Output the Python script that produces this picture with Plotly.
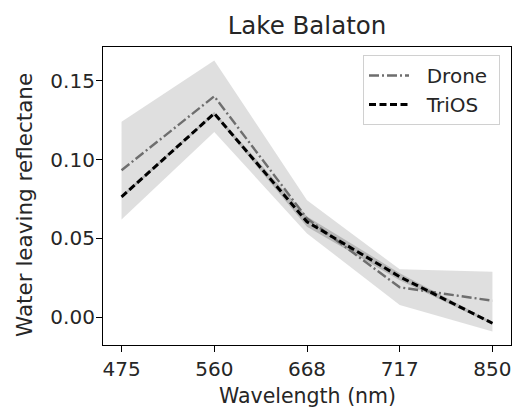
import plotly.graph_objects as go

wavelengths = ["475", "560", "668", "717", "850"]
drone = [0.0933, 0.1402, 0.0627, 0.0190, 0.0105]
drone_upper = [0.124, 0.163, 0.0743, 0.0304, 0.0289]
drone_lower = [0.062, 0.1176, 0.0532, 0.0078, -0.0091]
trios = [0.0764, 0.1293, 0.0606, 0.0257, -0.0038]
trios_upper = [0.0774, 0.1303, 0.0640, 0.0280, -0.0030]
trios_lower = [0.0754, 0.1283, 0.0575, 0.0235, -0.0046]

FONT = "DejaVu Sans"
TXT = "#262626"
FS = 20
W, H = 516, 411
L, R, T, B = 103, 5, 47, 66
NB = "\u00a0"

fig = go.Figure()

# Shaded bands
fig.add_trace(go.Scatter(x=wavelengths, y=drone_upper, mode="lines",
                         line=dict(width=0), showlegend=False, hoverinfo="skip"))
fig.add_trace(go.Scatter(x=wavelengths, y=drone_lower, mode="lines",
                         line=dict(width=0), fill="tonexty",
                         fillcolor="rgba(150,150,150,0.3)",
                         showlegend=False, hoverinfo="skip"))
fig.add_trace(go.Scatter(x=wavelengths, y=trios_upper, mode="lines",
                         line=dict(width=0), showlegend=False, hoverinfo="skip"))
fig.add_trace(go.Scatter(x=wavelengths, y=trios_lower, mode="lines",
                         line=dict(width=0), fill="tonexty",
                         fillcolor="rgba(110,110,110,0.35)",
                         showlegend=False, hoverinfo="skip"))

# Lines
fig.add_trace(go.Scatter(x=wavelengths, y=drone, mode="lines",
                         name=NB * 2 + "Drone" + NB,
                         line=dict(color="#6e6e6e", width=2.4,
                                   dash="10px,3px,2px,3px")))
fig.add_trace(go.Scatter(x=wavelengths, y=trios, mode="lines",
                         name=NB * 2 + "TriOS" + NB,
                         line=dict(color="#000000", width=3,
                                   dash="7px,3.5px")))

pw = W - L - R
ph = H - T - B

fig.update_layout(
    width=W, height=H,
    margin=dict(l=L, r=R, t=T, b=B, autoexpand=False),
    paper_bgcolor="white", plot_bgcolor="white",
    font=dict(family=FONT, size=FS, color=TXT),
    title=dict(text="Lake Balaton", x=0.5, xref="paper", xanchor="center",
               y=1 - 25 / H, yref="container", yanchor="middle",
               font=dict(family=FONT, size=24.5, color=TXT)),
    legend=dict(x=(363 - L) / pw, y=(H - B - 55) / ph, xanchor="left", yanchor="top",
                traceorder="normal",
                bgcolor="rgba(255,255,255,0.8)", bordercolor="#d0d0d0",
                borderwidth=1, font=dict(family=FONT, size=FS, color=TXT),
                itemwidth=40, tracegroupgap=0),
    showlegend=True,
    annotations=[
        dict(text="Wavelength (nm)", xref="paper", yref="paper",
             x=0.5, y=-(396 - (H - B)) / ph, xanchor="center", yanchor="middle",
             showarrow=False, font=dict(family=FONT, size=20.5, color=TXT)),
        dict(text="Water leaving reflectane", xref="paper", yref="paper",
             x=-(L - 24) / pw, y=(H - B - 205) / ph, xanchor="center", yanchor="middle",
             textangle=-90, showarrow=False,
             font=dict(family=FONT, size=21.5, color=TXT)),
    ],
)

fig.update_xaxes(
    type="category", range=[-0.2, 4.2], automargin=False,
    showgrid=False, zeroline=False,
    showline=True, linecolor="black", linewidth=1.2, mirror=True,
    ticks="outside", ticklen=6, tickcolor="black",
    tickfont=dict(family=FONT, size=FS, color=TXT),
)
fig.update_yaxes(
    range=[-0.0176, 0.1715], automargin=False,
    tickvals=[0.0, 0.05, 0.10, 0.15],
    ticktext=["0.00", "0.05", "0.10", "0.15"],
    showgrid=False, zeroline=False,
    showline=True, linecolor="black", linewidth=1.2, mirror=True,
    ticks="outside", ticklen=6, tickcolor="black", ticklabelstandoff=-3,
    tickfont=dict(family=FONT, size=FS, color=TXT),
)

fig.write_html("out.html", config={"displayModeBar": False},
               post_script="document.body.style.margin='0';document.body.style.overflow='hidden';")
